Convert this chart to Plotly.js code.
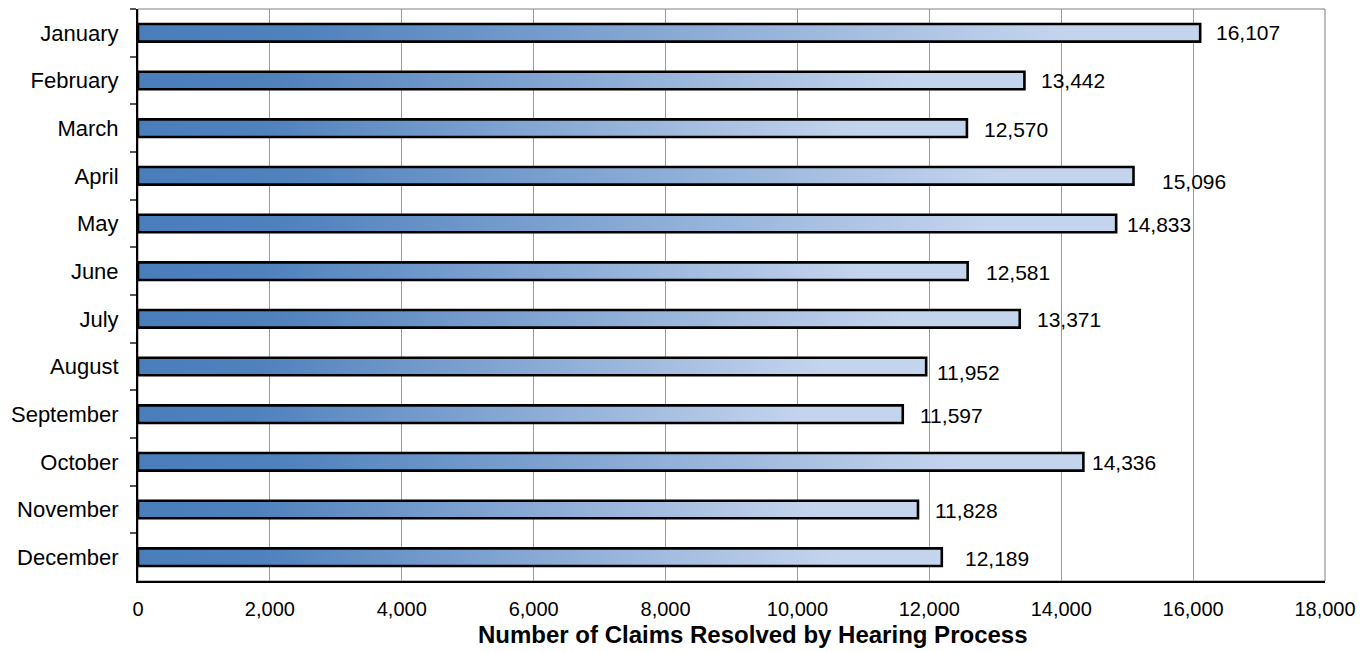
<!DOCTYPE html>
<html>
<head>
<meta charset="utf-8">
<script src="https://cdn.plot.ly/plotly-3.0.1.min.js"></script>
<style>
  html, body { margin: 0; padding: 0; background: #ffffff; }
  #chart { width: 1370px; height: 652px; }
</style>
</head>
<body>
<div id="chart"></div>
<script>
// Monthly claims resolved by the hearing process
const months = ["January", "February", "March", "April", "May", "June",
                "July", "August", "September", "October", "November", "December"];
const claims = [16107, 13442, 12570, 15096, 14833, 12581, 13371, 11952, 11597, 14336, 11828, 12189];
const xTickValues = [0, 2000, 4000, 6000, 8000, 10000, 12000, 14000, 16000, 18000];

// Value label placement: horizontal gap after the bar end and vertical drop (px)
const labelGap  = [14, 15, 15, 26, 9, 16, 15, 9, 15, 7, 15, 21];
const labelDrop = [0, 0, 1, 6, 1, 1, 1, 6, 1, 1, 1, 1];

const FONT = "Liberation Sans, Arial, sans-serif";
const BAR_HALF = 0.185;
const gradient = [[0, "#4a7ebb"], [0.15, "#4f81bd"], [0.87, "#c5d4ed"], [1, "#c5d4ed"]];

const traces = [];

// Invisible bars on the category axis carry the month categories and hover values
traces.push({
  type: "bar",
  orientation: "h",
  x: claims,
  y: months,
  marker: { color: "rgba(0,0,0,0)", line: { width: 0 } },
  hovertemplate: "%{y}: %{x:,}<extra></extra>",
  showlegend: false
});

// Each bar drawn as a filled outline with a left-to-right gradient
months.forEach((m, i) => {
  const v = claims[i];
  traces.push({
    type: "scatter",
    mode: "lines",
    yaxis: "y2",
    x: [0, v, v, 0, 0],
    y: [i - BAR_HALF, i - BAR_HALF, i + BAR_HALF, i + BAR_HALF, i - BAR_HALF],
    fill: "toself",
    fillgradient: { type: "horizontal", start: 0, stop: v, colorscale: gradient },
    line: { color: "#000000", width: 2.6 },
    hoverinfo: "skip",
    showlegend: false
  });
});

const annotations = months.map((m, i) => ({
  x: claims[i],
  y: m,
  xref: "x",
  yref: "y",
  text: claims[i].toLocaleString("en-US"),
  showarrow: false,
  xanchor: "left",
  yanchor: "middle",
  xshift: labelGap[i],
  yshift: -labelDrop[i],
  font: { family: FONT, size: 21, color: "#000000" }
}));

annotations.push({
  text: "<b>Number of Claims Resolved by Hearing Process</b>",
  xref: "paper",
  yref: "paper",
  x: 0.518,
  y: 0,
  xanchor: "center",
  yanchor: "middle",
  yshift: -53,
  showarrow: false,
  font: { family: FONT, size: 24, color: "#000000" }
});

const layout = {
  width: 1370,
  height: 652,
  margin: { l: 138, r: 45, t: 9, b: 71, pad: 0 },
  paper_bgcolor: "#ffffff",
  plot_bgcolor: "#ffffff",
  showlegend: false,
  font: { family: FONT, size: 20, color: "#000000" },
  xaxis: {
    range: [0, 18000],
    tickvals: xTickValues,
    tickformat: ",d",
    ticks: "",
    showgrid: true,
    gridcolor: "#9a9a9a",
    gridwidth: 1,
    zeroline: false,
    showline: true,
    linecolor: "#000000",
    linewidth: 2,
    ticklabelstandoff: 9,
    tickfont: { family: FONT, size: 20, color: "#000000" },
    fixedrange: true
  },
  yaxis: {
    type: "category",
    categoryarray: months,
    range: [11.5, -0.5],
    tickson: "boundaries",
    ticks: "outside",
    ticklen: 6,
    tickwidth: 1.5,
    tickcolor: "#555555",
    showgrid: false,
    zeroline: false,
    showline: true,
    linecolor: "#000000",
    linewidth: 2,
    ticklabelstandoff: 13,
    tickfont: { family: FONT, size: 22, color: "#000000" },
    fixedrange: true
  },
  yaxis2: {
    overlaying: "y",
    range: [11.5, -0.5],
    visible: false,
    fixedrange: true
  },
  shapes: [{
    type: "rect",
    xref: "paper",
    yref: "paper",
    x0: 0, x1: 1, y0: 0, y1: 1,
    line: { color: "#7f7f7f", width: 1 },
    layer: "below"
  }],
  annotations: annotations,
  bargap: 0.6
};

Plotly.newPlot("chart", traces, layout, { displayModeBar: false, staticPlot: false });
</script>
</body>
</html>
